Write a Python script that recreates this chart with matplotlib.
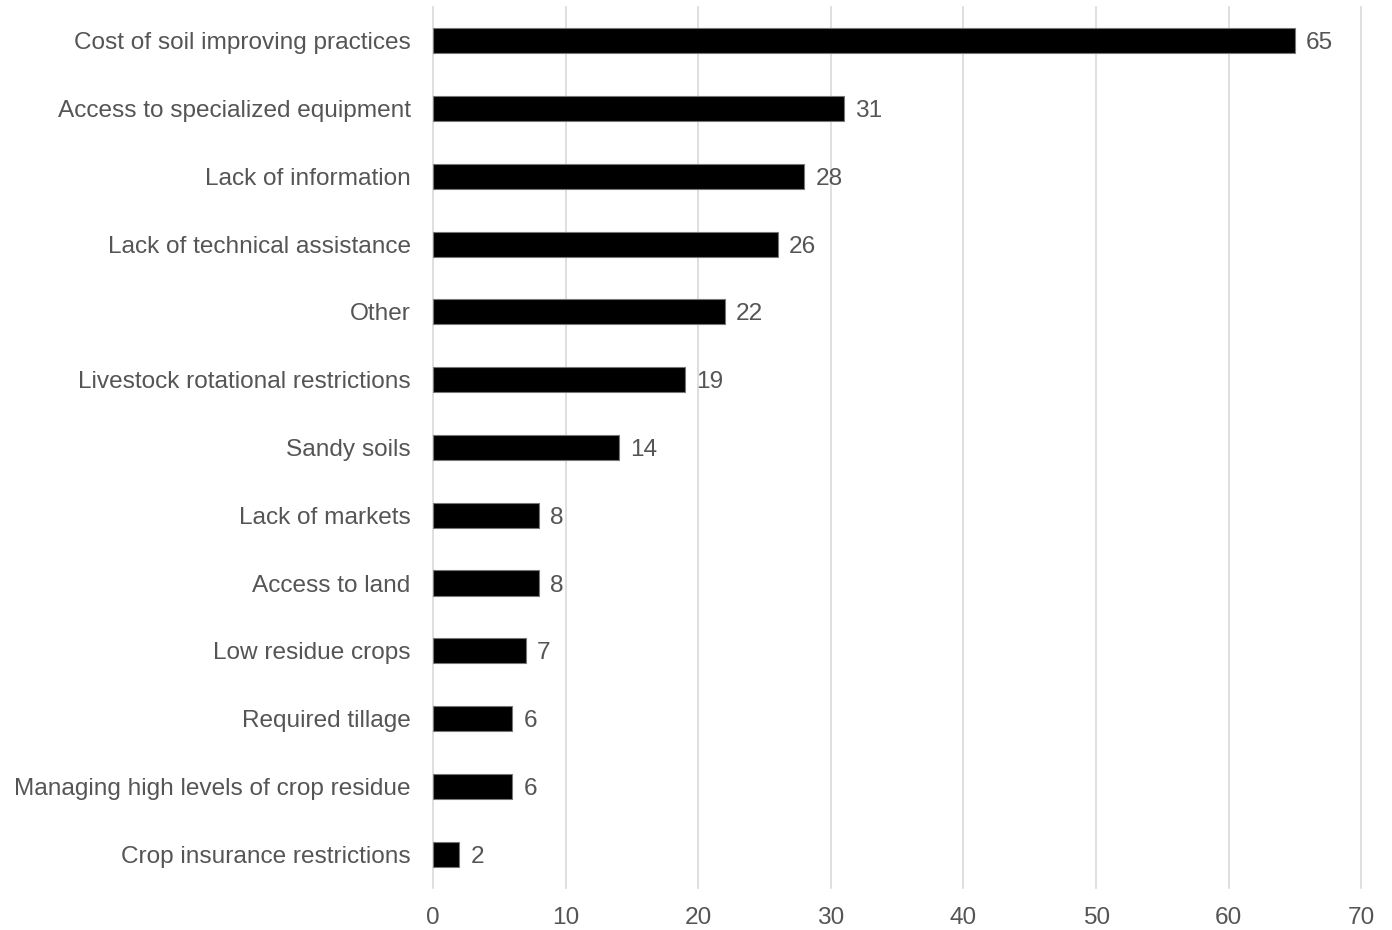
import matplotlib
matplotlib.use("Agg")
import matplotlib.pyplot as plt

categories = [
    "Cost of soil improving practices",
    "Access to specialized equipment",
    "Lack of information",
    "Lack of technical assistance",
    "Other",
    "Livestock rotational restrictions",
    "Sandy soils",
    "Lack of markets",
    "Access to land",
    "Low residue crops",
    "Required tillage",
    "Managing high levels of crop residue",
    "Crop insurance restrictions",
]
values = [65, 31, 28, 26, 22, 19, 14, 8, 8, 7, 6, 6, 2]
xticks = [0, 10, 20, 30, 40, 50, 60, 70]

plt.rcParams['font.family'] = ['Liberation Sans', 'DejaVu Sans']
text_color = '#555555'
fs = 17.6

fig = plt.figure(figsize=(13.92, 9.30), dpi=100)
ax = fig.add_axes([0.311, 0.0452, 0.978 - 0.311, 0.9925 - 0.0452])

pos = list(range(len(categories)))
ax.barh(pos, values, height=0.37, color='black', edgecolor='#777777', linewidth=0.8, zorder=3)

for p, v in zip(pos, values):
    ax.annotate(str(v), xy=(v, p), xytext=(8, 0), textcoords='offset points',
                ha='left', va='center_baseline', fontsize=fs, color=text_color)

ax.set_ylim(len(categories) - 0.5, -0.5)
ax.set_xlim(0, 70)
ax.set_yticks(pos)
ax.set_yticklabels(categories, fontsize=fs, color=text_color)
ax.set_xticks(xticks)
ax.set_xticklabels([str(t) for t in xticks], fontsize=fs, color=text_color)
ax.tick_params(axis='y', length=0, pad=16)
ax.tick_params(axis='x', length=0, pad=14)
ax.grid(axis='x', color='#d9d9d9', linewidth=1.2, zorder=0)
for gl in ax.get_xgridlines():
    gl.set_clip_on(False)
for s in ax.spines.values():
    s.set_visible(False)

fig.savefig('out.png', dpi=100)
